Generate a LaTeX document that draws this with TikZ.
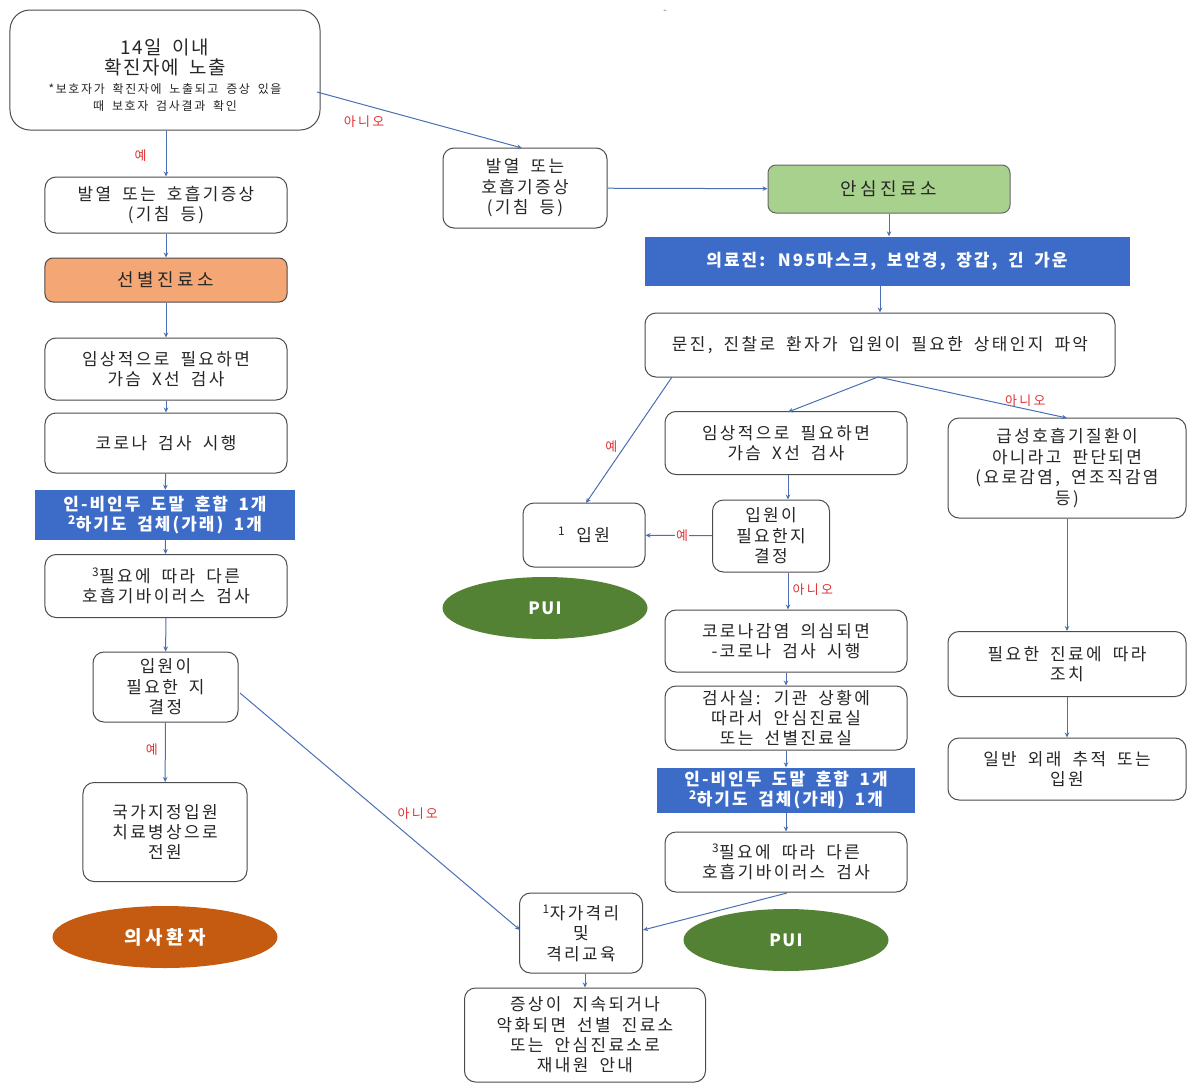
\documentclass[tikz,border=0pt]{standalone}
\usepackage{fontspec}
\setmainfont{Noto Sans CJK KR}[WordSpace=1.8]
\usetikzlibrary{arrows.meta,shapes.geometric}
\definecolor{lineblue}{HTML}{4A6FB5}
\definecolor{fillblue}{HTML}{3D6CC8}
\definecolor{sborange}{HTML}{F4A775}
\definecolor{asgreen}{HTML}{A9D18E}
\definecolor{elorange}{HTML}{C55A11}
\definecolor{elgreen}{HTML}{548235}
\definecolor{labred}{HTML}{E03030}
\newcommand{\wide}[1]{\addfontfeatures{LetterSpace=#1}}
\tikzset{
  box/.style={draw=black!70, line width=1bp, rounded corners=11bp, fill=white, align=center,
    text=black!85, font=\fontsize{17}{20.5}\selectfont\wide{14}, inner sep=2bp},
  bluebox/.style={fill=fillblue, draw=none, text=white, align=center, inner sep=2bp,
    font=\bfseries\fontsize{17}{21}\selectfont\wide{12}},
  pill/.style={ellipse, draw=none, text=white, font=\bfseries\fontsize{17}{19}\selectfont\wide{8}},
  conn/.style={draw=lineblue, line width=1bp, -{Stealth[length=5bp,width=4.5bp]}},
  lab/.style={text=labred, font=\fontsize{13}{15}\selectfont\wide{18}, inner sep=1bp},
}
\begin{document}
\begin{tikzpicture}[x=1bp,y=-1bp]
\useasboundingbox (0,0) rectangle (1187,1084);
\fill[white] (0,0) rectangle (1187,1084);
\node[text=black!60, font=\fontsize{10}{10}\selectfont] (mark) at (665,12) {-};

% left column
\node[box, rounded corners=20bp, minimum width=310bp, minimum height=120bp] (top) at (165,70)
  {{\fontsize{19}{22}\selectfont\wide{8}\rule{0pt}{26bp}14일 이내}\\{\fontsize{19}{22}\selectfont\wide{8} 확진자에 노출}\\[-2bp]
   {\fontsize{12}{14}\selectfont\wide{14} *보호자가 확진자에 노출되고 증상 있을}\\[-3bp]
   {\fontsize{12}{14}\selectfont\wide{14} 때 보호자 검사결과 확인}};
\node[box, minimum width=242bp, minimum height=56bp] (bal1) at (166,205) {발열 또는 호흡기증상\\(기침 등)};
\node[box, rounded corners=8bp, fill=sborange, draw=black!70, minimum width=242bp, minimum height=44bp, font=\fontsize{18}{20}\selectfont\wide{20}] (sb) at (166,280) {선별진료소};
\node[box, minimum width=242bp, minimum height=62bp] (im1) at (166,369) {임상적으로 필요하면\\가슴 X선 검사};
\node[box, minimum width=242bp, minimum height=60bp] (ko1) at (166,443) {코로나 검사 시행};
\node[bluebox, minimum width=260bp, minimum height=50bp] (bl1) at (165,515) {인-비인두 도말 혼합 1개\\\textsuperscript{2}하기도 검체(가래) 1개};
\node[box, minimum width=242bp, minimum height=63bp] (pl1) at (166,586) {\textsuperscript{3}필요에 따라 다른\\호흡기바이러스 검사};
\node[box, minimum width=145bp, minimum height=70bp] (ip1) at (165.5,687) {입원이\\필요한 지\\결정};
\node[box, minimum width=164bp, minimum height=99bp] (gk) at (165,832) {국가지정입원\\치료병상으로\\전원};
\node[pill, fill=elorange, minimum width=225bp, minimum height=62bp, font=\bfseries\fontsize{19}{21}\selectfont\wide{20}] (es) at (165,937) {의사환자};

% middle / right
\node[box, minimum width=164bp, minimum height=80bp] (bal2) at (525,188) {발열 또는\\호흡기증상\\(기침 등)};
\node[box, rounded corners=8bp, fill=asgreen, draw=black!60, minimum width=242bp, minimum height=48bp, font=\fontsize{18}{20}\selectfont\wide{20}] (an) at (889,189) {안심진료소};
\node[bluebox, minimum width=485bp, minimum height=49bp] (bl2) at (887,261) {의료진: N95마스크, 보안경, 장갑, 긴 가운};
\node[box, minimum width=470bp, minimum height=64bp] (mj) at (880,345) {문진, 진찰로 환자가 입원이 필요한 상태인지 파악};
\node[box, minimum width=242bp, minimum height=63bp] (im2) at (786,443) {임상적으로 필요하면\\가슴 X선 검사};
\node[box, minimum width=238bp, minimum height=100bp] (gs) at (1067,468) {급성호흡기질환이\\아니라고 판단되면\\(요로감염, 연조직감염\\등)};
\node[box, minimum width=122bp, minimum height=64bp] (ip2) at (584,535) {\textsuperscript{1} 입원};
\node[box, minimum width=117bp, minimum height=72bp] (ip3) at (771,536) {입원이\\필요한지\\결정};
\node[pill, fill=elgreen, minimum width=205bp, minimum height=62bp] (pui1) at (545,608) {PUI};
\node[box, minimum width=242bp, minimum height=62bp] (ko2) at (786,641) {코로나감염 의심되면\\-코로나 검사 시행};
\node[box, minimum width=242bp, minimum height=64bp] (gsl) at (786,718) {검사실: 기관 상황에\\따라서 안심진료실\\또는 선별진료실};
\node[bluebox, minimum width=258bp, minimum height=45bp] (bl3) at (786,790) {인-비인두 도말 혼합 1개\\\textsuperscript{2}하기도 검체(가래) 1개};
\node[box, minimum width=242bp, minimum height=60bp] (pl2) at (786,862) {\textsuperscript{3}필요에 따라 다른\\호흡기바이러스 검사};
\node[box, minimum width=238bp, minimum height=65bp] (pj) at (1067,664) {필요한 진료에 따라\\조치};
\node[box, minimum width=238bp, minimum height=62bp] (il) at (1067,769) {일반 외래 추적 또는\\입원};
\node[box, minimum width=123bp, minimum height=80bp] (jg) at (581,933) {\textsuperscript{1}자가격리\\및\\격리교육};
\node[pill, fill=elgreen, minimum width=205bp, minimum height=62bp] (pui2) at (786,940) {PUI};
\node[box, minimum width=241bp, minimum height=94bp] (js) at (585,1035) {증상이 지속되거나\\악화되면 선별 진료소\\또는 안심진료소로\\재내원 안내};

% coordinates for free ends
\coordinate (topR) at (317,92);
\coordinate (bal2T) at (522,148);
\coordinate (ip1R) at (240,693);
\coordinate (jgL) at (520,930);
\coordinate (mjJ) at (878,377);
\coordinate (im2T) at (788,412);
\coordinate (gsT) at (1067,418);
\coordinate (mjL) at (672,377);
\coordinate (ip2T) at (586,503);
\coordinate (pl2B) at (787,893);
\coordinate (jgR) at (643,930);

% connectors left
\draw[conn] (top.south -| bal1.north) -- (bal1.north) node[lab, pos=0.55, left=18bp] (y1) {예};
\draw[conn] (bal1) -- (sb);
\draw[conn] (sb) -- (im1);
\draw[conn] (im1) -- (ko1);
\draw[conn] (ko1) -- (bl1);
\draw[conn] (bl1) -- (pl1);
\draw[conn] (pl1) -- (ip1);
\draw[conn] (ip1) -- (gk) node[lab, pos=0.45, left=6bp] (y2) {예};
\draw[conn] (ip1R) -- (jgL) node[lab, pos=0.55, above right=2bp] (n2) {아니오};
\draw[conn] (topR) -- (bal2T) node[lab, pos=0.35, below left=3bp] (n1) {아니오};

% connectors right
\draw[conn] (bal2) -- (an);
\draw[conn] (an) -- (an |- bl2.north);
\draw[conn] (bl2.south -| mj.north) -- (mj.north);
\draw[conn] (mjJ) -- (im2T);
\draw[conn] (mjJ) -- (gsT) node[lab, pos=0.78, above=1bp] (n3) {아니오};
\draw[conn] (mjL) -- (ip2T) node[lab, pos=0.55, left=6bp] (y3) {예};
\draw[conn] (im2.south -| im2T) -- (ip3.north -| im2T);
\draw[conn] (ip3) -- (ip2) node[lab, pos=0.45, fill=white] (y4) {예};
\draw[conn] (ip3.south -| im2T) -- (ko2.north -| im2T) node[lab, pos=0.45, right=3bp] (n4) {아니오};
\draw[conn] (ko2) -- (gsl);
\draw[conn] (gsl) -- (bl3);
\draw[conn] (bl3) -- (pl2);
\draw[conn] (pl2B) -- (jgR);
\draw[conn] (jg.south -| js.north) -- (js.north);
\draw[conn] (gs) -- (pj);
\draw[conn] (pj) -- (il);
\end{tikzpicture}
\end{document}
